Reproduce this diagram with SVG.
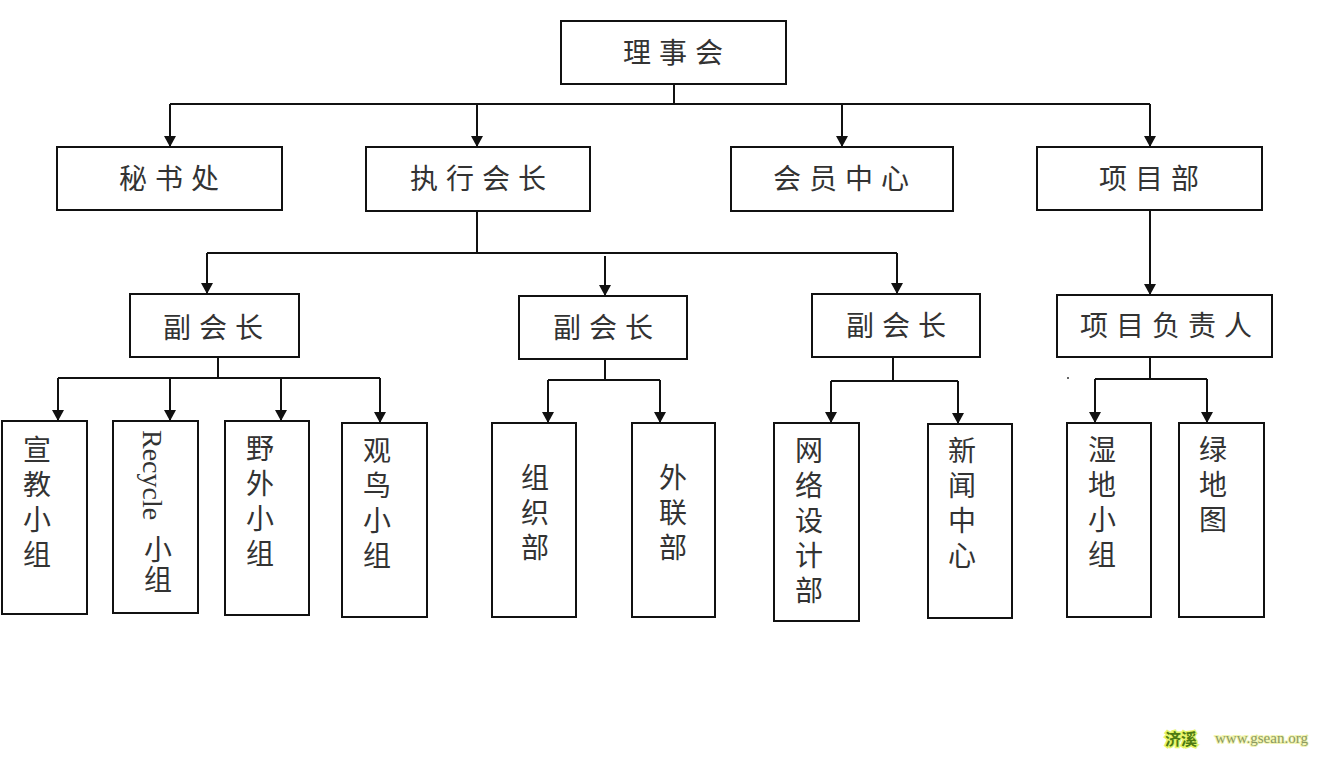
<svg xmlns="http://www.w3.org/2000/svg" width="1323" height="768" viewBox="0 0 1323 768">
<defs>
<style>
.box{fill:#fff;stroke:#111;stroke-width:2}
.lbl{font-family:"Noto Sans CJK SC","Noto Sans",sans-serif;font-size:28px;fill:#333;text-anchor:middle}
.h{letter-spacing:8px}
.v{font-family:"Noto Sans CJK SC","Noto Sans",sans-serif;font-size:28px;fill:#333;writing-mode:vertical-rl;letter-spacing:7px}
.c{fill:none;stroke:#111;stroke-width:2}
.a{marker-end:url(#arr)}
.lat{font-family:"Liberation Serif",serif;font-size:28px;fill:#333}
</style>
<marker id="arr" markerUnits="userSpaceOnUse" markerWidth="12" markerHeight="12" refX="11" refY="6" orient="auto" viewBox="0 0 12 12">
<path d="M0,0 L11,6 L0,12 z" fill="#111"/>
</marker>
</defs>
<rect width="1323" height="768" fill="#fff"/>
<g id="connectors">
<path class="c" d="M674 84V104M170 104H1150"/>
<path class="c a" d="M170 104V147"/>
<path class="c a" d="M477 104V147"/>
<path class="c a" d="M842 104V147"/>
<path class="c a" d="M1150 104V147"/>
<path class="c" d="M477 211V253M207 253H897"/>
<path class="c a" d="M207 253V294"/>
<path class="c a" d="M605 256V296"/>
<path class="c a" d="M897 253V294"/>
<path class="c a" d="M1150 210V295"/>
<path class="c" d="M218 357V378M58 378H380"/>
<path class="c a" d="M58 378V421"/>
<path class="c a" d="M170 378V421"/>
<path class="c a" d="M281 378V421"/>
<path class="c a" d="M380 378V423"/>
<path class="c" d="M605 359V380M548 380H660"/>
<path class="c a" d="M548 380V423"/>
<path class="c a" d="M660 380V423"/>
<path class="c" d="M893 357V381M831 381H958"/>
<path class="c a" d="M831 381V423"/>
<path class="c a" d="M958 381V424"/>
<path class="c" d="M1150 357V379M1095 379H1207"/>
<path class="c a" d="M1095 379V423"/>
<path class="c a" d="M1207 379V423"/>
<circle cx="1068" cy="378" r="1" fill="#333"/>
</g>
<g id="n-lishihui"><rect class="box" x="561" y="21" width="225" height="63"/><text class="lbl h" x="677" y="63">理事会</text></g>
<g id="n-mishuchu"><rect class="box" x="57" y="147" width="225" height="63"/><text class="lbl h" x="173" y="189">秘书处</text></g>
<g id="n-zhixing"><rect class="box" x="366" y="147" width="224" height="64"/><text class="lbl h" x="482" y="189">执行会长</text></g>
<g id="n-huiyuan"><rect class="box" x="731" y="147" width="222" height="64"/><text class="lbl h" x="845" y="189">会员中心</text></g>
<g id="n-xiangmu"><rect class="box" x="1037" y="147" width="225" height="63"/><text class="lbl h" x="1153" y="189">项目部</text></g>
<g id="n-fu1"><rect class="box" x="130" y="294" width="169" height="63"/><text class="lbl h" x="217" y="338">副会长</text></g>
<g id="n-fu2"><rect class="box" x="519" y="296" width="168" height="63"/><text class="lbl h" x="607" y="338">副会长</text></g>
<g id="n-fu3"><rect class="box" x="812" y="294" width="168" height="63"/><text class="lbl h" x="900" y="336">副会长</text></g>
<g id="n-fuze"><rect class="box" x="1057" y="295" width="215" height="62"/><text class="lbl h" x="1170" y="336">项目负责人</text></g>
<g id="n-xuanjiao"><rect class="box" x="2" y="421" width="85" height="193"/><text class="v" x="37" y="435">宣教小组</text></g>
<g id="n-recycle"><rect class="box" x="113" y="421" width="85" height="192"/>
<text class="lat" transform="translate(143,430) rotate(90)">Recycle</text>
<text class="v" x="158" y="535" style="letter-spacing:2px">小组</text></g>
<g id="n-yewai"><rect class="box" x="225" y="421" width="84" height="194"/><text class="v" x="260" y="434">野外小组</text></g>
<g id="n-guanniao"><rect class="box" x="342" y="423" width="85" height="194"/><text class="v" x="377" y="436">观鸟小组</text></g>
<g id="n-zuzhi"><rect class="box" x="492" y="423" width="84" height="194"/><text class="v" x="535" y="463">组织部</text></g>
<g id="n-wailian"><rect class="box" x="632" y="423" width="83" height="194"/><text class="v" x="673" y="463">外联部</text></g>
<g id="n-wangluo"><rect class="box" x="774" y="423" width="85" height="198"/><text class="v" x="809" y="436">网络设计部</text></g>
<g id="n-xinwen"><rect class="box" x="928" y="424" width="84" height="194"/><text class="v" x="962" y="436">新闻中心</text></g>
<g id="n-shidi"><rect class="box" x="1067" y="423" width="84" height="194"/><text class="v" x="1102" y="435">湿地小组</text></g>
<g id="n-lvditu"><rect class="box" x="1179" y="423" width="85" height="194"/><text class="v" x="1213" y="435">绿地图</text></g>
<g id="watermark">
<text x="1165" y="745" font-family="'Noto Sans CJK SC',sans-serif" font-size="16" font-weight="bold" fill="#4d7a12" stroke="#e6f56a" stroke-width="3" paint-order="stroke">济溪</text>
<text x="1215" y="743" font-family="'Liberation Serif',serif" font-size="15" fill="#8c9a63" stroke="#f2f5b0" stroke-width="2" paint-order="stroke">www.gsean.org</text>
</g>
</svg>
